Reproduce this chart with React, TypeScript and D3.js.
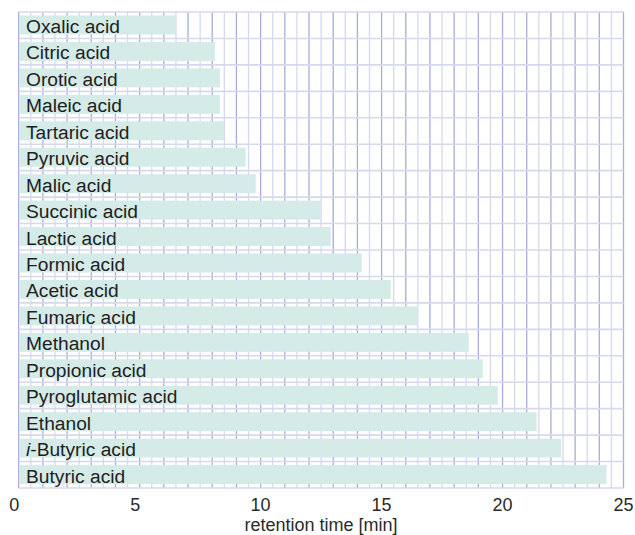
import React from "react";
import * as d3 from "d3";

const categories = [
  "Oxalic acid",
  "Citric acid",
  "Orotic acid",
  "Maleic acid",
  "Tartaric acid",
  "Pyruvic acid",
  "Malic acid",
  "Succinic acid",
  "Lactic acid",
  "Formic acid",
  "Acetic acid",
  "Fumaric acid",
  "Methanol",
  "Propionic acid",
  "Pyroglutamic acid",
  "Ethanol",
  "i-Butyric acid",
  "Butyric acid",
];

const retention = [
  6.5, 8.11, 8.32, 8.32, 8.49, 9.38, 9.8, 12.48, 12.9, 14.18, 15.38, 16.48,
  18.6, 19.18, 19.8, 21.41, 22.42, 24.3,
];

const xTicks = [0, 5, 10, 15, 20, 25];
const axisTitle = "retention time [min]";

const W = 635;
const H = 535;
const FONT = "'Liberation Sans', Arial, Helvetica, sans-serif";

export default function App() {
  const x = d3.scaleLinear().domain([0, 25]).range([18.7, 623.5]);
  const y = d3
    .scaleBand<string>()
    .domain(categories)
    .range([12, 488])
    .paddingInner(0)
    .paddingOuter(0);
  const barInset = 3.5;
  const barH = 19;

  const gridVals = d3.range(0, 25.001, 0.5);
  const boundaries = categories.map((c) => y(c) as number).concat([488]);
  const top = 12;
  const bottom = 488;

  return (
    <div style={{ position: "absolute", left: 0, top: 0 }}>
      <svg width={W} height={H} style={{ display: "block", background: "#fff" }}>
        {/* vertical grid */}
        {gridVals
          .filter((v) => !Number.isInteger(v))
          .map((v) => (
            <line
              key={"vl" + v}
              x1={x(v)}
              x2={x(v)}
              y1={top}
              y2={bottom}
              stroke="#d6d9ee"
              strokeWidth={1.3}
            />
          ))}
        {gridVals
          .filter((v) => Number.isInteger(v))
          .map((v) => (
            <line
              key={"vd" + v}
              x1={x(v)}
              x2={x(v)}
              y1={top}
              y2={bottom}
              stroke="#a7add6"
              strokeWidth={1.3}
            />
          ))}
        {/* horizontal grid */}
        {boundaries.map((b, i) => (
          <line
            key={"h" + i}
            x1={x(0)}
            x2={x(25)}
            y1={b}
            y2={b}
            stroke="#d6d9ee"
            strokeWidth={1.6}
          />
        ))}
        {/* bars */}
        {categories.map((c, i) => (
          <rect
            key={"b" + c}
            x={x(0) + 0.7}
            y={(y(c) as number) + barInset}
            width={x(retention[i]) - x(0) - 0.7}
            height={barH}
            fill="#d5ebe8"
          />
        ))}
        {/* labels */}
        {categories.map((c) => {
          const cy = (y(c) as number) + barInset + barH / 2;
          const italic = c.startsWith("i-");
          return (
            <text
              key={"t" + c}
              x={26}
              y={cy + 8}
              fontFamily={FONT}
              fontSize={19.2}
              fill="#1e1e1e"
            >
              {italic ? (
                <>
                  <tspan fontStyle="italic">i</tspan>
                  {c.slice(1)}
                </>
              ) : (
                c
              )}
            </text>
          );
        })}
        {/* x tick labels */}
        {xTicks.map((t) => {
          const s = String(t);
          const single = s.length === 1;
          return (
            <text
              key={"xt" + t}
              x={single ? x(t) + 0.5 : x(t)}
              y={511}
              textAnchor={single ? "end" : "middle"}
              fontFamily={FONT}
              fontSize={18}
              fill="#2a2a2a"
            >
              {s}
            </text>
          );
        })}
        <text
          x={(x(0) + x(25)) / 2}
          y={531}
          textAnchor="middle"
          fontFamily={FONT}
          fontSize={18}
          fill="#2a2a2a"
        >
          {axisTitle}
        </text>
      </svg>
    </div>
  );
}
